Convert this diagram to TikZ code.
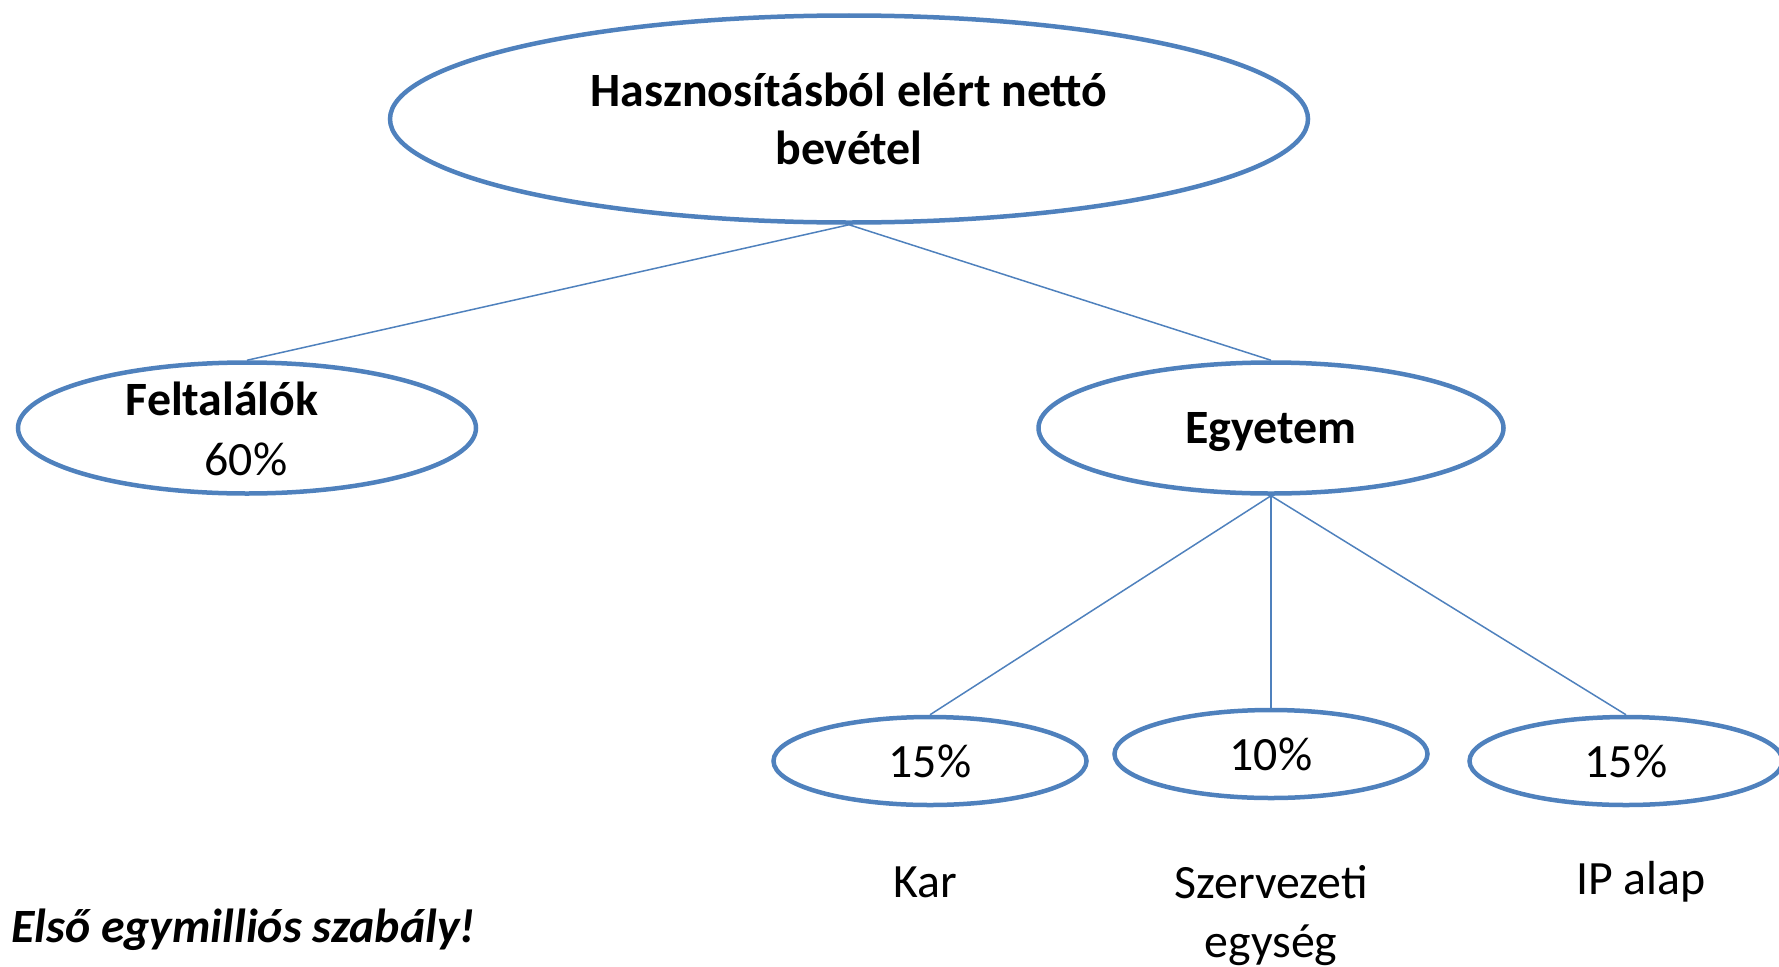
\documentclass[tikz,border=0pt]{standalone}
\usepackage{fontspec}
\setmainfont{Carlito}
\usetikzlibrary{shapes.geometric}
\definecolor{ovalblue}{RGB}{79,129,189}

\begin{document}
\begin{tikzpicture}[x=1bp,y=-1bp]
\tikzset{OvalStyle/.style = {ellipse, draw= ovalblue, line width= 4.5bp, inner sep= 0pt, align= center, font= \fontsize{48}{58}\selectfont},
  LinkStyle/.style = {draw= ovalblue, line width= 1.5bp},
  TextStyle/.style = {align= center, inner sep= 0pt, font= \fontsize{48}{59}\selectfont}
}

    % Page size
    \useasboundingbox (0,0) rectangle (1779,966);

    % Draw ovals
   \node[OvalStyle, minimum width= 918bp, minimum height= 207bp, font= \fontsize{48}{58}\selectfont\bfseries] (income) at (849,119) {Hasznosításból elért nettó\\bevétel};

   \node[OvalStyle, minimum width= 458bp, minimum height= 131bp] (inventors) at (247,428) {};
   \node[OvalStyle, minimum width= 465bp, minimum height= 131bp, text depth= 0pt, font= \fontsize{48}{58}\selectfont\bfseries] (univ) at (1271,428) {Egyetem};

   \node[OvalStyle, minimum width= 313bp, minimum height= 88bp] (faculty) at (930,761) {15\%};
   \node[OvalStyle, minimum width= 313bp, minimum height= 88bp] (unit) at (1271,754) {10\%};
   \node[OvalStyle, minimum width= 313bp, minimum height= 88bp] (ipfund) at (1626,761) {15\%};

    % Texts
   \node[TextStyle, font= \fontsize{48}{58}\selectfont\bfseries] (invname) at (222,399) {Feltalálók};
   \node[TextStyle] (invshare) at (246,459) {60\%};

   \node[TextStyle] (facname) at (925,882) {Kar};
   \node[TextStyle, anchor= north] (unitname) at (1271,865) {Szervezeti\\egység};
   \node[TextStyle] (ipname) at (1641,882) {IP alap};

   \node[TextStyle, anchor= west, font= \fontsize{48}{58}\selectfont\bfseries\itshape] (rule) at (11,930) {Első egymilliós szabály!};

    % Draw links
   \path[LinkStyle] (income.south) -- (inventors.north);
   \path[LinkStyle] (income.south) -- (univ.north);
   \path[LinkStyle] (univ.south) -- (faculty.north);
   \path[LinkStyle] (univ.south) -- (unit.north);
   \path[LinkStyle] (univ.south) -- (ipfund.north);
\end{tikzpicture}
\end{document}
